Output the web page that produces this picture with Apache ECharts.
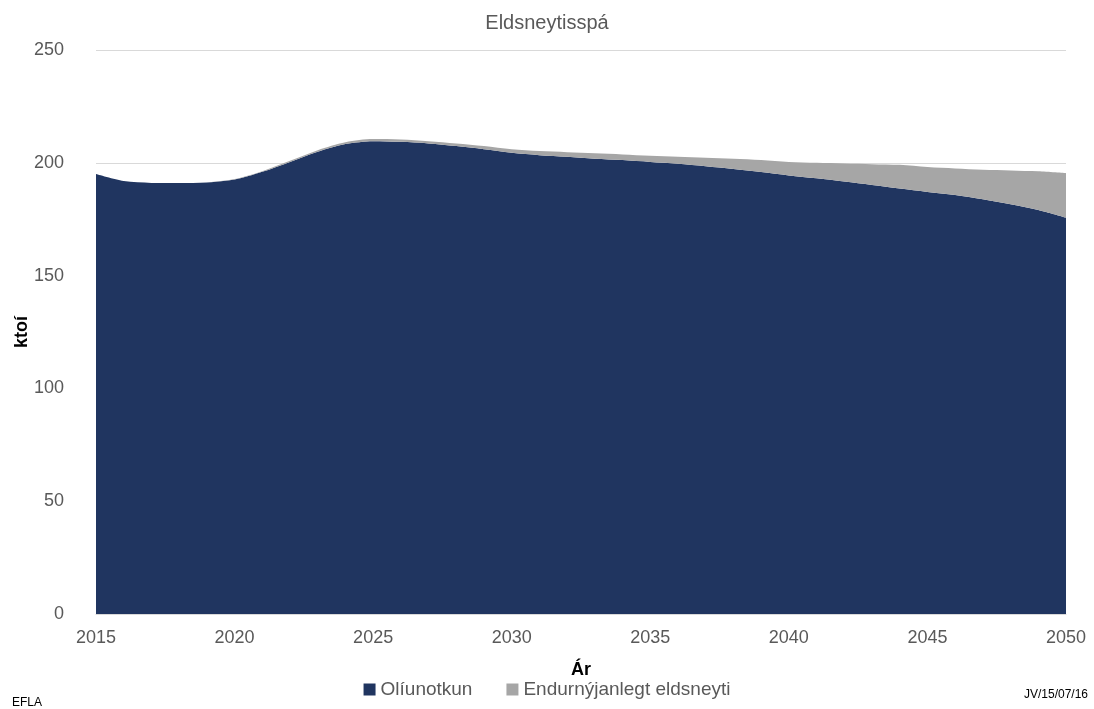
<!DOCTYPE html>
<html>
<head>
<meta charset="utf-8">
<script src="https://cdn.jsdelivr.net/npm/echarts@6/dist/echarts.min.js"></script>
<style>
  html, body { margin: 0; padding: 0; background: #fff; }
  #chart { width: 1094px; height: 709px; }
</style>
</head>
<body>
<div id="chart"></div>
<script>
var years = [];
for (var y = 2015; y <= 2050; y++) years.push(String(y));

// ktoí
var oliunotkun = [195.0, 191.9, 191.1, 191.0, 191.3, 192.6, 196.0, 200.4, 204.9, 208.3,
                  209.6, 209.3, 208.6, 207.4, 206.0, 204.4, 203.4, 202.7, 201.8, 201.2,
                  200.4, 199.6, 198.5, 197.3, 195.9, 194.4, 193.1, 191.7, 190.2, 188.6,
                  187.1, 185.7, 183.8, 181.6, 179.1, 175.7];
var endurnyjanlegt = [0, 0, 0, 0, 0, 0.2, 0.3, 0.5, 0.7, 0.8,
                      0.9, 1.0, 1.0, 1.2, 1.4, 1.6, 1.8, 2.0, 2.4, 2.5,
                      2.7, 3.1, 3.7, 4.5, 5.3, 6.0, 6.9, 8.0, 9.2, 10.5,
                      11.0, 11.8, 13.1, 15.0, 17.1, 19.7];

var myChart = echarts.init(document.getElementById('chart'));
var option = {
    animation: false,
    color: ['#203560', '#a6a6a6'],
    title: {
        text: 'Eldsneytisspá',
        left: 'center',
        top: 8,
        textStyle: { color: '#595959', fontSize: 20, fontWeight: 'normal', fontFamily: 'Liberation Sans' }
    },
    legend: {
        bottom: 5,
        left: 'center',
        itemWidth: 12,
        itemHeight: 12,
        itemGap: 34,
        icon: 'rect',
        textStyle: { color: '#595959', fontSize: 19, fontFamily: 'Liberation Sans' },
        data: ['Olíunotkun', 'Endurnýjanlegt eldsneyti']
    },
    grid: { left: 96, right: 28, top: 50, bottom: 95, outerBoundsMode: 'none' },
    xAxis: {
        type: 'category',
        boundaryGap: false,
        data: years,
        name: 'Ár',
        nameLocation: 'middle',
        nameGap: 47,
        nameTextStyle: { color: '#000', fontSize: 18, fontWeight: 'bold', fontFamily: 'Liberation Sans' },
        axisLine: { lineStyle: { color: '#d9d9d9' } },
        axisTick: { show: false },
        splitLine: { show: false },
        axisLabel: { interval: 4, color: '#595959', fontSize: 18, margin: 15, fontFamily: 'Liberation Sans' }
    },
    yAxis: {
        type: 'value',
        min: 0,
        max: 250,
        interval: 50,
        name: 'ktoí',
        nameLocation: 'middle',
        nameGap: 65,
        nameMoveOverlap: false,
        nameTextStyle: { color: '#000', fontSize: 18, fontWeight: 'bold', fontFamily: 'Liberation Sans' },
        axisLine: { show: false },
        axisTick: { show: false },
        splitLine: { lineStyle: { color: '#d9d9d9' } },
        axisLabel: { color: '#595959', fontSize: 18, margin: 32, fontFamily: 'Liberation Sans' }
    },
    series: [
        {
            name: 'Olíunotkun',
            type: 'line',
            stack: 'total',
            smooth: 0.3,
            symbol: 'none',
            lineStyle: { width: 0 },
            areaStyle: { opacity: 1 },
            data: oliunotkun
        },
        {
            name: 'Endurnýjanlegt eldsneyti',
            type: 'line',
            stack: 'total',
            smooth: 0.3,
            symbol: 'none',
            lineStyle: { width: 0 },
            areaStyle: { opacity: 1 },
            data: endurnyjanlegt
        }
    ],
    graphic: [
        { type: 'text', left: 12, top: 697, style: { text: 'EFLA', fill: '#000', fontSize: 12, fontFamily: 'Liberation Sans' } },
        { type: 'text', right: 6, top: 689, style: { text: 'JV/15/07/16', fill: '#000', fontSize: 12, fontFamily: 'Liberation Sans' } }
    ]
};
myChart.setOption(option);
</script>
</body>
</html>
